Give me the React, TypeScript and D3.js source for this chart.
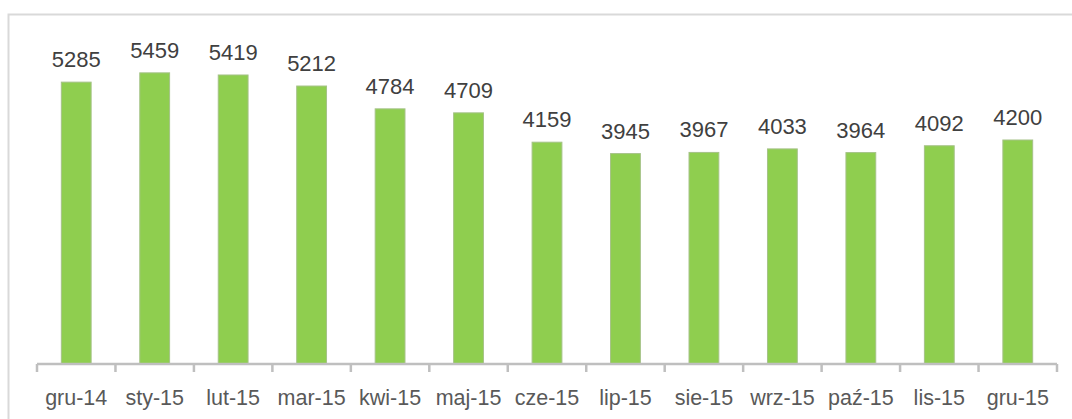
import React, { useEffect, useRef } from 'react';
import * as d3 from 'd3';

const months = ['gru-14', 'sty-15', 'lut-15', 'mar-15', 'kwi-15', 'maj-15', 'cze-15', 'lip-15', 'sie-15', 'wrz-15', 'paź-15', 'lis-15', 'gru-15'];
const counts = [5285, 5459, 5419, 5212, 4784, 4709, 4159, 3945, 3967, 4033, 3964, 4092, 4200];

const W = 1072;
const H = 419;

export default function App() {
  const ref = useRef<SVGSVGElement>(null);

  useEffect(() => {
    const svg = d3.select(ref.current);
    svg.selectAll('*').remove();

    const font = '"Liberation Sans", Arial, sans-serif';
    const left = 37, right = 1057, axisY = 364;

    // chart area frame (right and bottom edges run off the picture)
    svg.append('rect')
      .attr('x', 8.5).attr('y', 14.5)
      .attr('width', W).attr('height', H)
      .attr('fill', 'white')
      .attr('stroke', '#d9d9d9')
      .attr('stroke-width', 2);

    const x = d3.scaleBand().domain(months).range([left, right]).paddingInner(0.62).paddingOuter(0.31);
    const y = d3.scaleLinear().domain([0, 6000]).range([axisY, axisY - 320]);

    // Bars
    svg.selectAll('rect.bar')
      .data(counts)
      .enter()
      .append('rect')
      .attr('class', 'bar')
      .attr('x', (d, i) => x(months[i])!)
      .attr('y', d => y(d))
      .attr('width', x.bandwidth())
      .attr('height', d => axisY - y(d))
      .attr('fill', '#8fce4f')
      .attr('stroke', '#a5c287')
      .attr('stroke-width', 1);

    // Value labels
    svg.selectAll('text.val')
      .data(counts)
      .enter()
      .append('text')
      .attr('class', 'val')
      .attr('x', (d, i) => x(months[i])! + x.bandwidth() / 2)
      .attr('y', d => y(d) - 15)
      .attr('text-anchor', 'middle')
      .attr('font-family', font)
      .attr('font-size', 22)
      .attr('fill', '#404040')
      .text(d => d);

    // Category axis
    const step = (right - left) / months.length;
    const ax = svg.append('g');
    ax.append('line')
      .attr('x1', left).attr('x2', right)
      .attr('y1', axisY).attr('y2', axisY)
      .attr('stroke', '#bfbfbf').attr('stroke-width', 2.5);
    ax.selectAll('line.tick')
      .data(d3.range(months.length + 1))
      .enter()
      .append('line')
      .attr('class', 'tick')
      .attr('x1', i => left + i * step).attr('x2', i => left + i * step)
      .attr('y1', axisY).attr('y2', axisY + 8)
      .attr('stroke', '#bfbfbf').attr('stroke-width', 2.5);
    ax.selectAll('text')
      .data(months)
      .enter()
      .append('text')
      .attr('x', d => x(d)! + x.bandwidth() / 2)
      .attr('y', 405)
      .attr('text-anchor', 'middle')
      .attr('font-family', font)
      .attr('font-size', 21.5)
      .attr('fill', '#595959')
      .text(d => d);
  }, []);

  return <svg ref={ref} width={W} height={H} style={{ position: 'absolute', left: 0, top: 0 }}></svg>;
}
